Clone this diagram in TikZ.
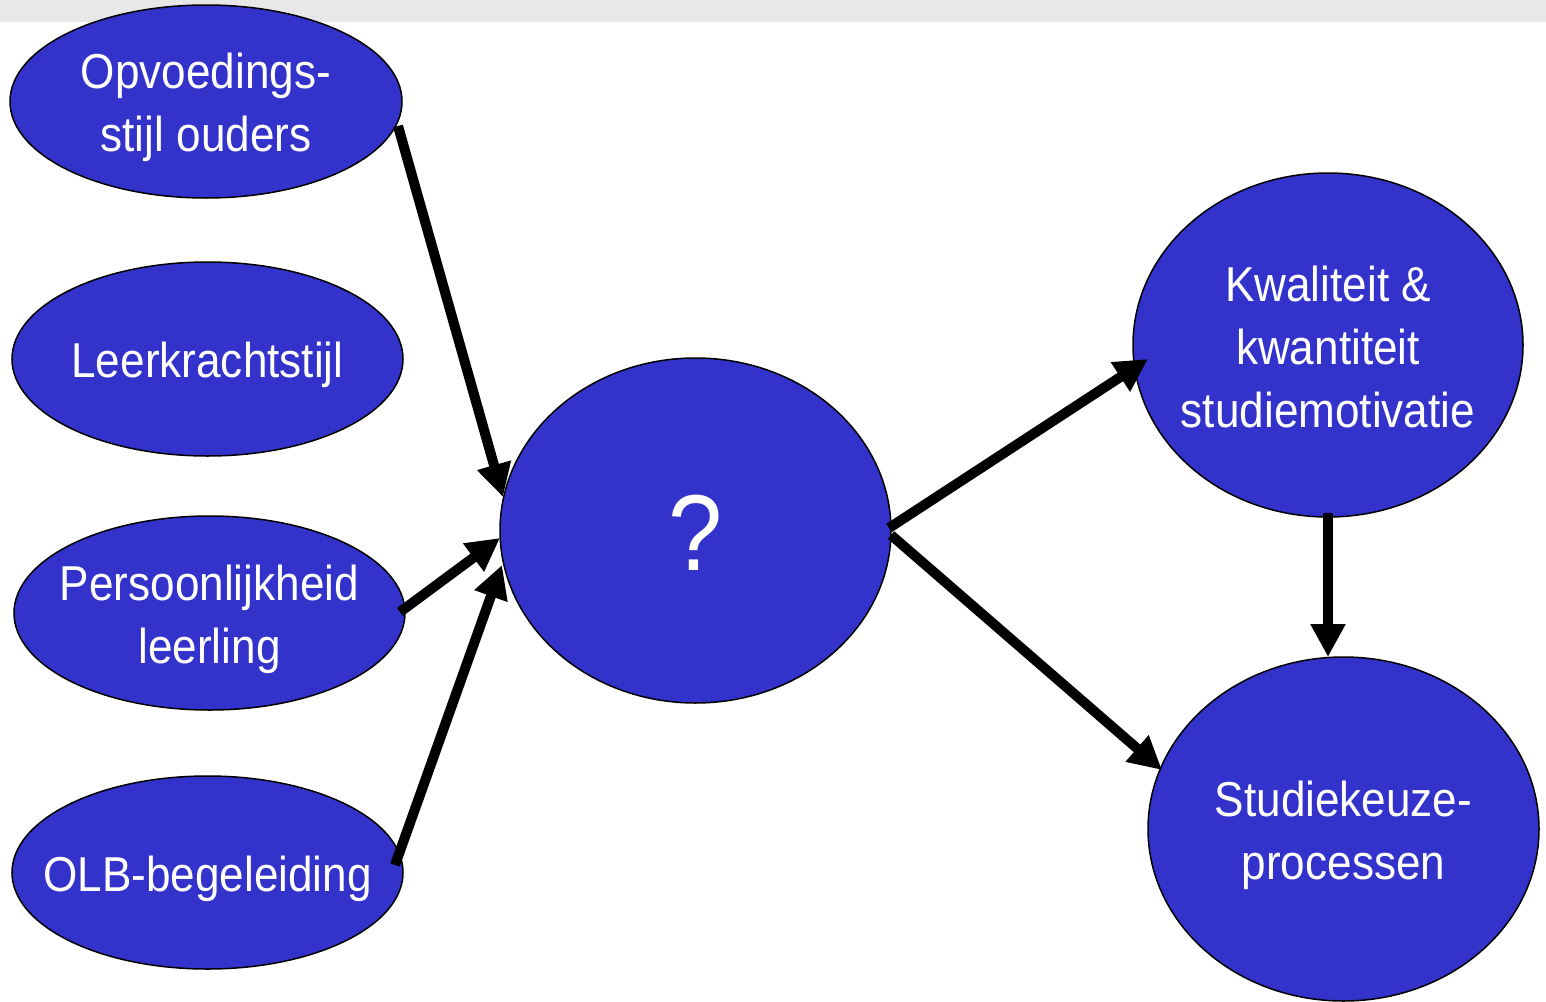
\documentclass[tikz,border=0pt]{standalone}
\usepackage{fontspec}
\setmainfont[FakeStretch=0.9]{Liberation Sans}
\usetikzlibrary{shapes.geometric,arrows.meta,calc}
\definecolor{bubble}{HTML}{3333CC}
\definecolor{band}{HTML}{E8E8E8}
\begin{document}
\begin{tikzpicture}[x=1pt,y=-1pt,
  bub/.style={ellipse,draw=black,line width=1.5pt,fill=bubble,inner sep=0pt},
  txt/.style={text=white,align=center,inner sep=0pt,yshift=-6pt,
    font=\fontsize{49}{63}\selectfont},
  link/.style={line width=10pt,-{Triangle[length=33pt,width=33pt]}}]
\useasboundingbox (0,0) rectangle (1546,1001);
\fill[band] (0,0) rectangle (1546,22);

% ellipses, with their texts as centred labels so the text does not widen them
\node[bub,minimum width=392pt,minimum height=193pt,
  label={[txt]center:Opvoedings-\\stijl ouders}] (o) at (206,101.5) {};
\node[bub,minimum width=391pt,minimum height=194pt,
  label={[txt]center:Leerkrachtstijl}] (l) at (207.5,359) {};
\node[bub,minimum width=391pt,minimum height=194pt,
  label={[txt]center:Persoonlijkheid\\leerling}] (p) at (209.5,613) {};
\node[bub,minimum width=391pt,minimum height=193pt,
  label={[txt]center:OLB-begeleiding}] (b) at (207.5,872.5) {};
\node[bub,minimum width=391pt,minimum height=345pt,
  label={[txt,yshift=4pt,font=\fontsize{108}{120}\selectfont]center:?}] (q) at (695.5,530.5) {};
\node[bub,minimum width=390pt,minimum height=344pt,
  label={[txt,yshift=4pt]center:Kwaliteit \&\\kwantiteit\\studiemotivatie}] (k) at (1328,345) {};
\node[bub,minimum width=391pt,minimum height=344pt,
  label={[txt]center:Studiekeuze-\\processen}] (s) at (1343.5,829) {};

\draw[link] ($(o)+(192,24.5)$) -- ($(q)+(-192.5,-33.5)$);
\draw[link] ($(p)+(190.5,-1)$) -- ($(q)+(-195.5,7.5)$);
\draw[link] ($(b)+(187.5,-7.5)$) -- ($(q)+(-193.5,34.5)$);
\draw[link] ($(q)+(193.5,-2.5)$) -- ($(k)+(-180,14)$);
\draw[link] ($(q)+(195.5,4.5)$) -- ($(s)+(-181.5,-59)$);
\draw[link] ($(k)+(0,168)$) -- ($(s)+(-15.5,-172)$);
\end{tikzpicture}
\end{document}
